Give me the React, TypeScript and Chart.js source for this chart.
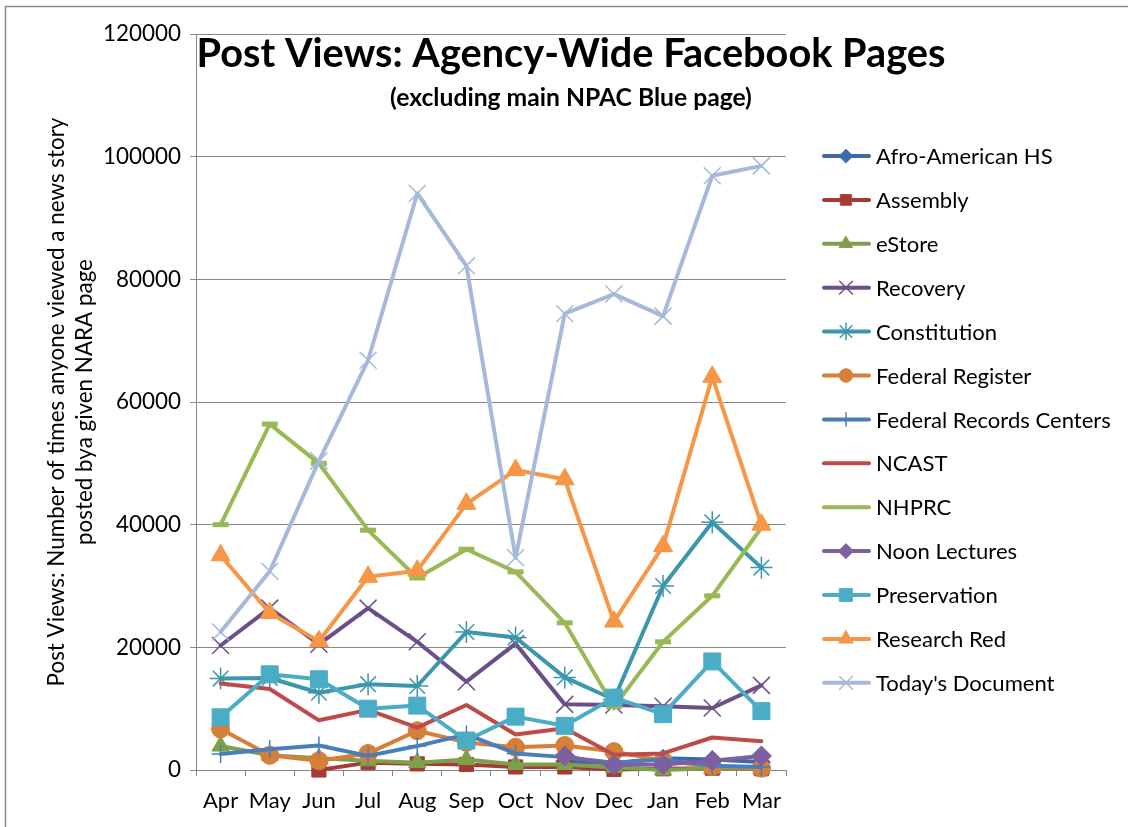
import { useEffect, useRef } from "react";
import { Chart, registerables } from "chart.js";
import { drawPoint } from "chart.js/helpers";

Chart.register(...registerables);

const FONT = "Lato, 'Open Sans', sans-serif";

const months = ["Apr", "May", "Jun", "Jul", "Aug", "Sep", "Oct", "Nov", "Dec", "Jan", "Feb", "Mar"];

const afroAmericanHS = [null, null, null, null, null, null, null, 1400, 1100, 1900, 1700, 1300];
const assembly = [null, null, 0, 1200, 1000, 900, 500, 500, 100, 200, 300, 200];
const eStore = [3900, 2400, 1900, 1500, 1200, 1700, 900, 900, 400, 0, 300, 200];
const recovery = [20300, 26400, 20500, 26400, 20900, 14400, 20600, 10700, 10600, 10400, 10100, 13800];
const constitution = [14900, 15000, 12600, 14000, 13700, 22500, 21600, 15100, 11500, 30000, 40400, 33000];
const federalRegister = [6700, 2400, 1500, 2700, 6400, 4500, 3700, 4000, 3000, 1500, 600, 300];
const federalRecordsCenters = [2600, 3400, 4000, 2300, 3900, 5800, 2700, 2100, 1200, 1700, 700, 500];
const ncast = [14100, 13200, 8100, 9800, 6900, 10600, 5800, 6800, 2500, 2700, 5300, 4700];
const nhprc = [40000, 56400, 50000, 39100, 31300, 36000, 32300, 24000, 10300, 20900, 28400, 39500];
const noonLectures = [null, null, null, null, null, null, null, 2300, 800, 900, 1500, 2300];
const preservation = [8600, 15600, 14800, 10000, 10500, 4800, 8700, 7200, 11800, 9100, 17700, 9600];
const researchRed = [35000, 25600, 21000, 31500, 32500, 43400, 48900, 47400, 24200, 36500, 64100, 40000];
const todaysDocument = [22500, 32400, 50400, 66800, 94000, 82200, 34600, 74400, 77600, 74000, 96900, 98500];

const yTicks = [0, 20000, 40000, 60000, 80000, 100000, 120000];

const titleText = "Post Views: Agency-Wide Facebook Pages";
const subtitleText = "(excluding main NPAC Blue page)";
const yTitleLines = ["Post Views: Number of times anyone viewed a news story", "posted bya given NARA page"];

const series = [
  { label: "Afro-American HS", data: afroAmericanHS, color: "#3D6BA6", style: "rectRot", r: 9, bw: 1 },
  { label: "Assembly", data: assembly, color: "#A63A37", style: "rect", r: 10, bw: 1 },
  { label: "eStore", data: eStore, color: "#7EA04A", style: "triangle", r: 10, bw: 1 },
  { label: "Recovery", data: recovery, color: "#6B4F8A", style: "crossRot", r: 12, bw: 1.5 },
  { label: "Constitution", data: constitution, color: "#3A97AC", style: "star", r: 11, bw: 1.5 },
  { label: "Federal Register", data: federalRegister, color: "#D57F38", style: "circle", r: 9, bw: 1 },
  { label: "Federal Records Centers", data: federalRecordsCenters, color: "#4A7EBB", style: "cross", r: 9, bw: 1.5 },
  { label: "NCAST", data: ncast, color: "#BE4B48", style: "circle", r: 0, bw: 0 },
  { label: "NHPRC", data: nhprc, color: "#98B954", style: "line", r: 8, bw: 5 },
  { label: "Noon Lectures", data: noonLectures, color: "#7D60A0", style: "rectRot", r: 10, bw: 1 },
  { label: "Preservation", data: preservation, color: "#4BACC6", style: "rect", r: 12, bw: 1 },
  { label: "Research Red", data: researchRed, color: "#F79646", style: "triangle", r: 11, bw: 1 },
  { label: "Today's Document", data: todaysDocument, color: "#A7B9D9", style: "crossRot", r: 12, bw: 1.5 },
];

function fitSize(text: string, weight: string, target: number) {
  const c = document.createElement("canvas").getContext("2d")!;
  c.font = `${weight} 100px ${FONT}`;
  return (100 * target) / c.measureText(text).width;
}

const decorPlugin = {
  id: "decor",
  afterDraw(chart: any, _args: any, opts: any) {
    const ctx = chart.ctx as CanvasRenderingContext2D;
    ctx.save();
    ctx.strokeStyle = "#8a8a8a";
    ctx.lineWidth = 1.5;
    ctx.strokeRect(5.5, 6.5, 1400, 1200);

    ctx.fillStyle = "#000";
    ctx.textAlign = "center";
    ctx.textBaseline = "alphabetic";
    ctx.font = `bold ${opts.titleSize}px ${FONT}`;
    ctx.fillText(titleText, 571, 67);
    ctx.font = `bold ${opts.subSize}px ${FONT}`;
    ctx.fillText(subtitleText, 571, 106);

    chart.data.datasets.forEach((ds: any, i: number) => {
      const y = 156 + i * 43.9;
      ctx.strokeStyle = ds.borderColor;
      ctx.lineWidth = 4;
      ctx.lineCap = "round";
      ctx.beginPath();
      ctx.moveTo(824, y);
      ctx.lineTo(869, y);
      ctx.stroke();
      if (ds.pointRadius > 0 && ds.pointStyle !== "line") {
        ctx.fillStyle = ds.pointBackgroundColor;
        ctx.strokeStyle = ds.pointBorderColor;
        ctx.lineWidth = ds.pointBorderWidth;
        drawPoint(ctx, { pointStyle: ds.pointStyle, rotation: 0, radius: ds.pointRadius * 0.75, borderWidth: ds.pointBorderWidth } as any, 846, y);
      }
      ctx.fillStyle = "#000";
      ctx.textAlign = "left";
      ctx.textBaseline = "middle";
      ctx.font = `${opts.legendSize}px ${FONT}`;
      ctx.fillText(ds.label, 876, y + 1);
    });
    ctx.restore();
  },
};

export default function App() {
  const ref = useRef<HTMLCanvasElement | null>(null);

  useEffect(() => {
    if (!ref.current) return;
    const tickSize = fitSize("120000", "normal", 78);
    const xTickSize = fitSize("May", "normal", 42);
    const legendSize = fitSize("Federal Records Centers", "normal", 235);
    const yTitleSize = fitSize(yTitleLines[1], "normal", 286);
    const titleSize = fitSize(titleText, "bold", 749);
    const subSize = fitSize(subtitleText, "bold", 362);
    const yTitleLH = 28;

    const chart = new Chart(ref.current, {
      type: "line",
      data: {
        labels: months,
        datasets: series.map((s, i) => ({
          label: s.label,
          data: s.data,
          borderColor: s.color,
          backgroundColor: s.color,
          borderWidth: 4,
          borderJoinStyle: "round",
          borderCapStyle: "round",
          tension: 0,
          pointStyle: s.style,
          pointRadius: s.r,
          pointHoverRadius: s.r,
          pointBorderWidth: s.bw,
          pointBackgroundColor: s.color,
          pointBorderColor: s.color,
          spanGaps: false,
          clip: false,
          order: series.length - i,
        })) as any,
      },
      options: {
        animation: false,
        responsive: false,
        maintainAspectRatio: false,
        events: [],
        layout: { padding: { left: 0, top: 34, right: 342, bottom: 0 } },
        plugins: {
          legend: { display: false },
          title: { display: false },
          tooltip: { enabled: false },
          decor: { titleSize, subSize, legendSize },
        } as any,
        scales: {
          x: {
            type: "category",
            offset: true,
            grid: { display: true, drawOnChartArea: false, drawTicks: true, tickLength: 6, offset: true, color: "#868686" },
            border: { color: "#868686", width: 1 },
            ticks: { color: "#000", font: { family: FONT, size: xTickSize }, padding: 12, maxRotation: 0, autoSkip: false },
            afterFit: (scale: any) => {
              scale.height = 57;
            },
          },
          y: {
            min: yTicks[0],
            max: yTicks[yTicks.length - 1],
            grid: { color: "#868686", tickLength: 6, drawTicks: true },
            border: { color: "#868686", width: 1 },
            afterBuildTicks: (scale: any) => {
              scale.ticks = yTicks.map((v) => ({ value: v }));
            },
            ticks: {
              color: "#000",
              font: { family: FONT, size: tickSize },
              padding: 9,
              callback: (v: any) => String(v),
            },
            title: {
              display: true,
              text: yTitleLines,
              color: "#000",
              font: { family: FONT, size: yTitleSize, lineHeight: `${yTitleLH}px` as any },
              padding: { top: 57 - yTitleLH / 2, bottom: 0 },
            },
            afterFit: (scale: any) => {
              scale.width = 196;
            },
          },
        },
      },
      plugins: [decorPlugin as any],
    });
    return () => chart.destroy();
  }, []);

  return (
    <div style={{ position: "fixed", left: 0, top: 0, width: 1128, height: 827, background: "#fff" }}>
      <canvas ref={ref} width={1128} height={827} style={{ width: 1128, height: 827, display: "block" }} />
    </div>
  );
}
